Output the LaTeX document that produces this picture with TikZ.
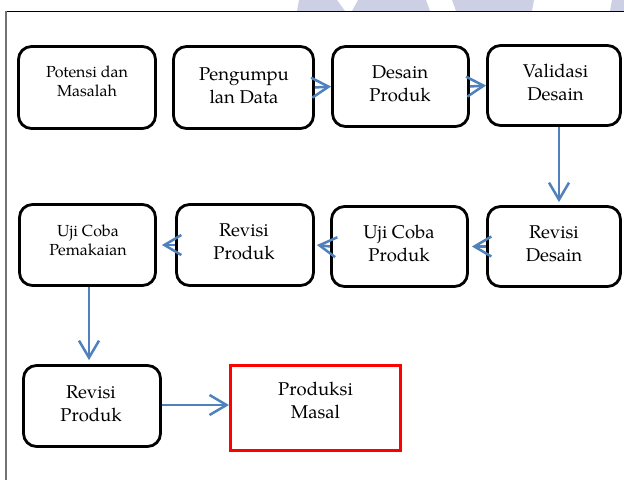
\documentclass[tikz,border=0pt]{standalone}
\usepackage{fontspec}
\setmainfont{TeX Gyre Pagella}
\usetikzlibrary{arrows.meta}
\definecolor{arrowblue}{RGB}{79,129,189}
\definecolor{wm}{RGB}{205,208,228}
\definecolor{boxred}{RGB}{255,0,0}
\begin{document}
\begin{tikzpicture}[x=1pt,y=-1pt,
  rbox/.style 2 args={draw, line width=2.8pt, rounded corners=13pt, inner sep=0pt, minimum width=#1, minimum height=#2},
  redbox/.style 2 args={draw=boxred, line width=3pt, inner sep=0pt, minimum width=#1, minimum height=#2},
  txtsmall/.style={font=\fontsize{16}{18.8}\selectfont, align=center, inner sep=0pt},
  txtbig/.style={font=\fontsize{18.5}{23}\selectfont, align=center, inner sep=0pt},
  arr/.style={draw=arrowblue, line width=2.5pt, -{Straight Barb[length=17pt,width=20pt]}},
  stripe/.style={fill=wm, draw=none}]
\useasboundingbox (0,0) rectangle (624,480);
% watermark stripes
\fill[stripe] (299,0) -- (337,0) -- (345,11) -- (297,11) -- cycle;
\fill[stripe] (358,0) -- (426,0) -- (430,11) -- (352,11) -- cycle;
\fill[stripe] (452,0) -- (534,0) -- (532,11) -- (456,11) -- cycle;
\fill[stripe] (612,0) -- (624,0) -- (624,11) -- (610,11) -- cycle;
% frame
\coordinate (fTL) at (6,11);
\coordinate (fTR) at (624,11);
\coordinate (fBL) at (6,480);
\draw[line width=1pt, black] (fTL) -- (fTR);
\draw[line width=1.6pt, black!55] (fTL) -- (fBL);
% row 1
\node[rbox={137pt}{82pt}] (b1) at (87,87.5) {};
\node[rbox={140pt}{82pt}] (b2) at (243.5,87.5) {};
\node[rbox={136pt}{80pt}] (b3) at (400.5,86.5) {};
\node[rbox={133pt}{80pt}] (b4) at (554,85.5) {};
\node[txtsmall] (t1) at (87,81.5) {Potensi dan\\Masalah};
\node[txtbig] (t2) at (244,85.5) {Pengumpu\\lan Data};
\node[txtbig] (t3) at (400,84) {Desain\\Produk};
\node[txtbig] (t4) at (555.5,82.5) {Validasi\\Desain};
% row 2
\node[rbox={136pt}{81pt}] (c1) at (87.5,245) {};
\node[rbox={137pt}{81pt}] (c2) at (245,245) {};
\node[rbox={136pt}{80pt}] (c3) at (399.5,246.5) {};
\node[rbox={133pt}{80pt}] (c4) at (554,246.5) {};
\node[txtsmall] (u1) at (88,240.5) {Uji Coba\\Pemakaian};
\node[txtbig] (u2) at (244,242) {Revisi\\Produk};
\node[txtbig] (u3) at (399,243.5) {Uji Coba\\Produk};
\node[txtbig] (u4) at (554,243.5) {Revisi\\Desain};
% row 3
\node[rbox={137pt}{81pt}] (d1) at (92,406) {};
\node[redbox={170pt}{85pt}] (d2) at (315.5,408) {};
\node[txtbig] (v1) at (91,404) {Revisi\\Produk};
\node[txtbig] (v2) at (315.5,400.5) {Produksi\\Masal};
% connectors
\draw[arr] (b2.east) -- (b3.west);
\draw[arr] (b3.east) -- (b4.west);
\draw[arr] ([xshift=5pt]b4.south) -- ([xshift=5pt,yshift=3pt]c4.north);
\draw[arr] (c4.west) -- ([xshift=3pt]c3.east);
\draw[arr] (c3.west) -- ([xshift=2pt]c2.east);
\draw[arr] (c2.west) -- ([xshift=5pt]c1.east);
\draw[arr] ([xshift=1.5pt]c1.south) -- ([xshift=1.5pt,yshift=4pt]c1.south |- d1.north);
\draw[arr] ([yshift=1pt]d1.east) -- ([yshift=1pt]d1.east -| d2.west);
\end{tikzpicture}
\end{document}
